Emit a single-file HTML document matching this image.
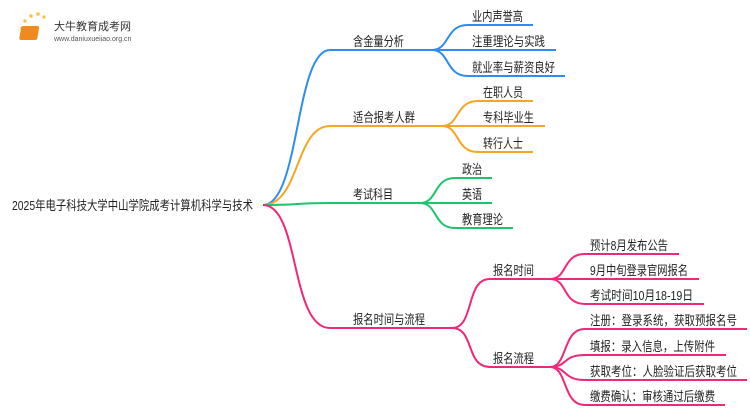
<!DOCTYPE html>
<html><head><meta charset="utf-8"><style>
body{margin:0;background:#fff;width:750px;height:410px;overflow:hidden}
text{font-family:"Liberation Sans","Noto Sans CJK SC",sans-serif;font-size:13px;fill:#222}
path{fill:none;stroke-width:2}
</style></head><body>
<svg width="750" height="410" xmlns="http://www.w3.org/2000/svg">
<g>
<circle cx="22" cy="28" r="1.5" fill="#f7c24a"/><circle cx="25" cy="21" r="1.7" fill="#f7c24a"/><circle cx="31" cy="16" r="1.8" fill="#f7c24a"/><circle cx="38" cy="14" r="1.8" fill="#f7c24a"/><circle cx="44" cy="17" r="1.6" fill="#f7c24a"/>
<rect x="26" y="26" width="18" height="14" rx="2" fill="#f08a1c" transform="skewX(-10)"/>
<text x="54" y="30" style="font-size:11px;fill:#333">大牛教育成考网</text>
<text x="54" y="41" style="font-size:7px;fill:#555">www.daniuxueiiao.org.cn</text>
</g>
<text x="12" y="210" textLength="241" lengthAdjust="spacingAndGlyphs">2025年电子科技大学中山学院成考计算机科学与技术</text>
<g stroke="#2f8cf0">
<path d="M263,205 C300,205 295,50 330,50 L432,50"/>
<path d="M432,50 C450,50 445,25 468,25 L533,25"/>
<path d="M432,50 L556,50"/>
<path d="M432,50 C450,50 445,76 468,76 L565,76"/>
</g>
<text x="353" y="46" textLength="51" lengthAdjust="spacingAndGlyphs">含金量分析</text>
<text x="472" y="21" textLength="51" lengthAdjust="spacingAndGlyphs">业内声誉高</text>
<text x="472" y="46" textLength="73" lengthAdjust="spacingAndGlyphs">注重理论与实践</text>
<text x="472" y="72" textLength="83" lengthAdjust="spacingAndGlyphs">就业率与薪资良好</text>
<g stroke="#f5a623">
<path d="M263,205 C300,205 295,126 330,126 L442,126"/>
<path d="M442,126 C460,126 455,101 478,101 L533,101"/>
<path d="M442,126 L545,126"/>
<path d="M442,126 C460,126 455,152 478,152 L533,152"/>
</g>
<text x="353" y="122" textLength="62" lengthAdjust="spacingAndGlyphs">适合报考人群</text>
<text x="483" y="97" textLength="40" lengthAdjust="spacingAndGlyphs">在职人员</text>
<text x="483" y="122" textLength="51" lengthAdjust="spacingAndGlyphs">专科毕业生</text>
<text x="483" y="148" textLength="40" lengthAdjust="spacingAndGlyphs">转行人士</text>
<g stroke="#1ec46c">
<path d="M263,205 C300,205 295,203 330,203 L420,203"/>
<path d="M420,203 C438,203 433,178 455,178 L492,178"/>
<path d="M420,203 L492,203"/>
<path d="M420,203 C438,203 433,228 455,228 L513,228"/>
</g>
<text x="353" y="199" textLength="40" lengthAdjust="spacingAndGlyphs">考试科目</text>
<text x="462" y="174" textLength="20" lengthAdjust="spacingAndGlyphs">政治</text>
<text x="462" y="199" textLength="20" lengthAdjust="spacingAndGlyphs">英语</text>
<text x="462" y="224" textLength="41" lengthAdjust="spacingAndGlyphs">教育理论</text>
<g stroke="#f0287a">
<path d="M263,205 C300,205 290,328 330,328 L452,328"/>
<path d="M452,328 C475,328 465,279 490,279 L550,279"/>
<path d="M452,328 C475,328 465,367 490,367 L550,367"/>
<path d="M550,279 C568,279 562,254 585,254 L679,254"/>
<path d="M550,279 L699,279"/>
<path d="M550,279 C568,279 562,304 585,304 L704,304"/>
<path d="M550,367 C568,367 562,329 585,329 L747,329"/>
<path d="M550,367 C568,367 562,355 585,355 L726,355"/>
<path d="M550,367 C568,367 562,380 585,380 L747,380"/>
<path d="M550,367 C568,367 562,405 585,405 L725,405"/>
</g>
<text x="353" y="324" textLength="72" lengthAdjust="spacingAndGlyphs">报名时间与流程</text>
<text x="493" y="275" textLength="41" lengthAdjust="spacingAndGlyphs">报名时间</text>
<text x="493" y="363" textLength="41" lengthAdjust="spacingAndGlyphs">报名流程</text>
<text x="590" y="250" textLength="78" lengthAdjust="spacingAndGlyphs">预计8月发布公告</text>
<text x="590" y="275" textLength="98" lengthAdjust="spacingAndGlyphs">9月中旬登录官网报名</text>
<text x="590" y="300" textLength="103" lengthAdjust="spacingAndGlyphs">考试时间10月18-19日</text>
<text x="590" y="325" textLength="147" lengthAdjust="spacingAndGlyphs">注册：登录系统，获取预报名号</text>
<text x="590" y="351" textLength="125" lengthAdjust="spacingAndGlyphs">填报：录入信息，上传附件</text>
<text x="590" y="376" textLength="147" lengthAdjust="spacingAndGlyphs">获取考位：人脸验证后获取考位</text>
<text x="590" y="401" textLength="125" lengthAdjust="spacingAndGlyphs">缴费确认：审核通过后缴费</text>
</svg>
</body></html>
